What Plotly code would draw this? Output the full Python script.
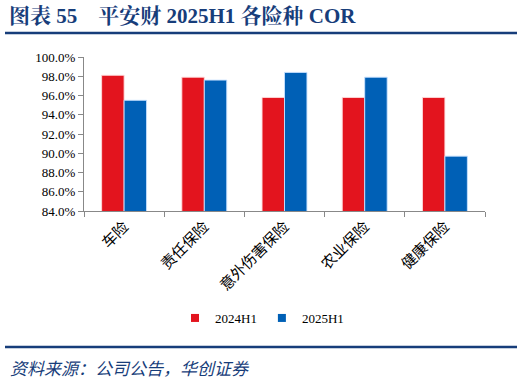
import plotly.graph_objects as go

categories = ["车险", "责任保险", "意外伤害保险", "农业保险", "健康保险"]
cor_2024h1 = [98.1, 97.9, 95.8, 95.8, 95.8]
cor_2025h1 = [95.5, 97.6, 98.4, 97.9, 89.7]
series_names = ["2024H1", "2025H1"]
y_ticks = [84, 86, 88, 90, 92, 94, 96, 98, 100]

RED = "#E3141E"
BLUE = "#0060B6"
TITLE_BLUE = "#173D7A"
SERIF = "Liberation Serif, Noto Serif CJK SC, Noto Sans CJK SC"
CJK = "Noto Sans CJK SC"

fig = go.Figure()
fig.add_bar(x=categories, y=cor_2024h1, name=series_names[0], showlegend=False,
            marker=dict(color=RED, line=dict(color="rgba(255,220,220,0.9)", width=1)))
fig.add_bar(x=categories, y=cor_2025h1, name=series_names[1], showlegend=False,
            marker=dict(color=BLUE, line=dict(color="rgba(200,225,255,0.9)", width=1)))
# legend entries with small square swatches
for name, col in zip(series_names, [RED, BLUE]):
    fig.add_scatter(x=[None], y=[None], mode="markers", name=name,
                    marker=dict(symbol="square", size=8, color=col))

fig.update_layout(
    width=524, height=381,
    margin=dict(l=84, r=39, t=57, b=170),
    paper_bgcolor="white", plot_bgcolor="white",
    barmode="group", bargap=0.44, bargroupgap=0,
    showlegend=True,
    legend=dict(orientation="h", x=0.5, xanchor="center", xref="container",
                y=1 - 318/381, yref="container", yanchor="middle",
                font=dict(family=SERIF, size=13, color="#000"),
                itemwidth=30, tracegroupgap=0),
    font=dict(family=SERIF, color="#000"),
)

fig.update_yaxes(range=[84, 100], tickvals=y_ticks,
                 ticktext=[f"{v:.1f}%" for v in y_ticks],
                 showgrid=False, zeroline=False, automargin=False,
                 showline=True, linecolor="#888", linewidth=1,
                 ticks="outside", ticklen=5, tickcolor="#888",
                 tickfont=dict(family=SERIF, size=13, color="#000"))
fig.update_xaxes(showgrid=False, showline=True, linecolor="#888", linewidth=1,
                 ticks="outside", ticklen=5, tickcolor="#888", automargin=False,
                 tickson="boundaries", tickangle=-45,
                 tickfont=dict(family=CJK, size=15, color="#000"))

# title and footer
fig.add_annotation(text="<b>图表 55    平安财 2025H1 各险种 COR</b>",
                   xref="paper", yref="paper", x=(7-84)/401, y=1 + (57-16)/154,
                   xanchor="left", yanchor="middle", showarrow=False,
                   font=dict(family=SERIF, size=21, color=TITLE_BLUE))
fig.add_shape(type="line", xref="paper", yref="paper",
              x0=(5-84)/401, x1=(517-84)/401,
              y0=1 + (57-33)/154, y1=1 + (57-33)/154,
              line=dict(color=TITLE_BLUE, width=2.5))
fig.add_shape(type="line", xref="paper", yref="paper",
              x0=(5-84)/401, x1=(517-84)/401,
              y0=1 - (347-57)/154, y1=1 - (347-57)/154,
              line=dict(color=TITLE_BLUE, width=2.5))
fig.add_annotation(text="资料来源：公司公告，华创证券",
                   xref="paper", yref="paper", x=(8-84)/401, y=1 - (367-57)/154,
                   xanchor="left", yanchor="middle", showarrow=False,
                   font=dict(family=CJK, size=17, color=TITLE_BLUE, style="italic"))

fig.write_html("out.html")
